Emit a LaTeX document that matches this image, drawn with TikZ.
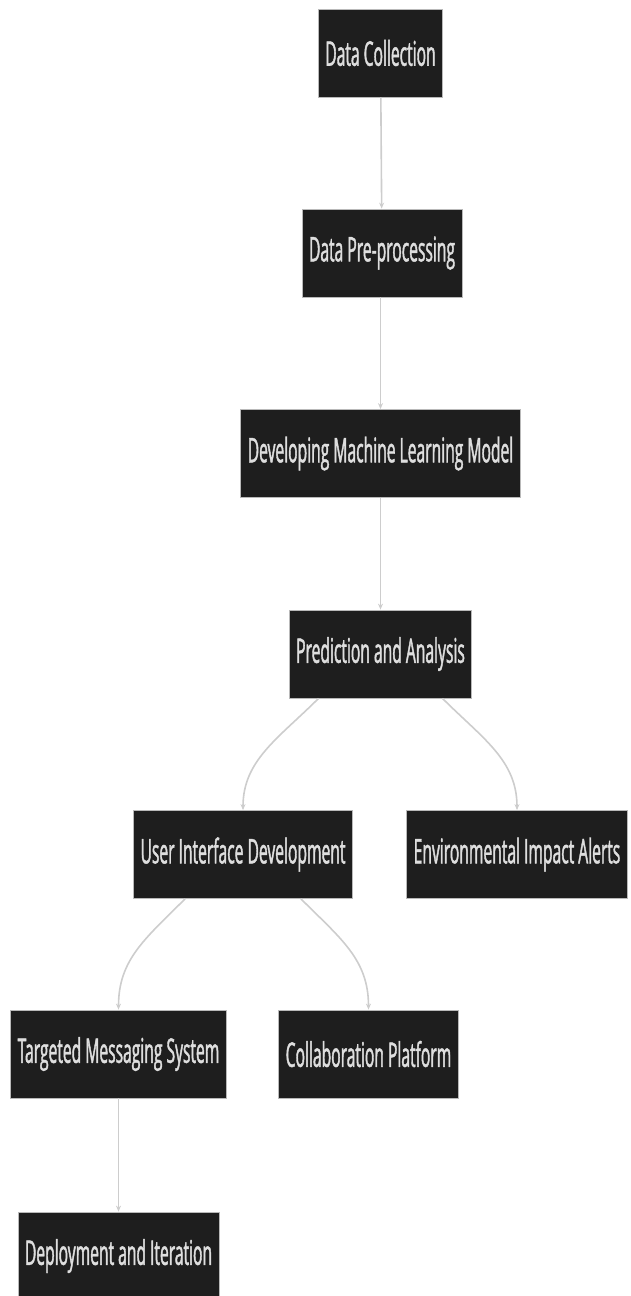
\documentclass[tikz,border=0pt]{standalone}
\usepackage{fontspec}
\newfontfamily\boxfont[FakeStretch=0.46, FakeBold=1.2]{Open Sans}
\usetikzlibrary{arrows.meta, positioning}

\begin{document}
\begin{tikzpicture}[
    x=1pt, y=-1pt, % pixel-like units, y pointing down
    >={Stealth[length=6pt, width=5pt]}, % Default arrow tip
    stepbox/.style={draw=gray!55, line width=0.8pt, fill={rgb,255:red,30;green,30;blue,30},
        text={rgb,255:red,222;green,222;blue,222}, font=\boxfont\fontsize{34}{40}\selectfont,
        minimum height=88pt, inner xsep=7pt, inner ysep=0pt}, % Style for the dark boxes
    link/.style={->, line width=1.6pt, color={rgb,255:red,205;green,205;blue,205}} % Style for connectors
]

    % --- Canvas ---
    \useasboundingbox (0,0) rectangle (630,1296);
    \clip (0,0) rectangle (630,1296);

    % --- Main column ---
    \node[stepbox] (collect) at (380.5,53) {Data Collection};
    \node[stepbox] (prep) at (382,253) {Data Pre-processing};
    \node[stepbox] (model) at (380.5,453.5) {Developing Machine Learning Model};
    \node[stepbox] (predict) at (380.5,654) {Prediction and Analysis};

    % --- Branches ---
    \node[stepbox] (ui) at (243,854.5) {User Interface Development};
    \node[stepbox] (alerts) at (517,854.5) {Environmental Impact Alerts};
    \node[stepbox] (messaging) at (118.5,1054) {Targeted Messaging System};
    \node[stepbox] (collab) at (368.5,1054) {Collaboration Platform};
    \node[stepbox] (deploy) at (118.5,1256) {Deployment and Iteration};

    % --- Connectors ---
    \draw[link] (collect) -- (prep);
    \draw[link] (prep.south -| model.north) -- (model);
    \draw[link] (model) -- (predict);
    \draw[link] ([xshift=-62pt]predict.south) .. controls +(-40,40) and +(0,-50) .. (ui.north);
    \draw[link] ([xshift=62pt]predict.south) .. controls +(40,40) and +(0,-50) .. (alerts.north);
    \draw[link] ([xshift=-58pt]ui.south) .. controls +(-40,40) and +(0,-50) .. (messaging.north);
    \draw[link] ([xshift=58pt]ui.south) .. controls +(40,40) and +(0,-50) .. (collab.north);
    \draw[link] (messaging) -- (deploy);

\end{tikzpicture}
\end{document}
